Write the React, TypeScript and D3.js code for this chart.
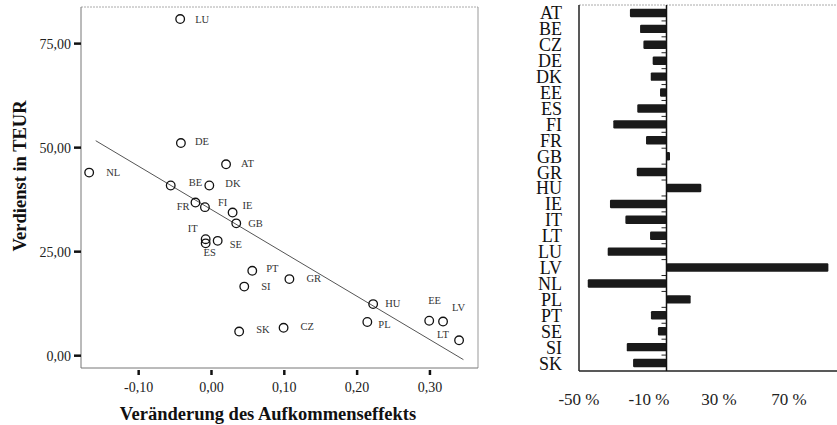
import React from "react";
import * as d3 from "d3";

// ---------- Data ----------
const countries = ["AT","BE","CZ","DE","DK","EE","ES","FI","FR","GB","GR","HU","IE","IT","LT","LU","LV","NL","PL","PT","SE","SI","SK"];

// scatter: change of revenue effect (x) vs earnings in TEUR (y)
const scatterX = [0.020,-0.056,0.099,-0.042,-0.003,0.299,-0.008,-0.009,-0.022,0.034,0.107,0.222,0.029,-0.008,0.340,-0.043,0.318,-0.168,0.214,0.056,0.0085,0.045,0.038];
const scatterY = [46.0,40.9,6.7,51.1,40.9,8.4,27.0,35.7,36.8,31.8,18.4,12.4,34.4,28.0,3.7,80.9,8.2,44.0,8.1,20.4,27.6,16.6,5.8];

// regression line
const regIntercept = 35.1;
const regSlope = -104.2;
const regXRange = [-0.159, 0.346];

// bar chart: change in percent
const barValues = [-20.9,-15.1,-13.2,-7.9,-9.0,-3.7,-16.7,-30.4,-11.7,2.0,-17.0,19.9,-32.3,-23.5,-9.4,-33.6,92.5,-45.0,13.8,-8.9,-4.9,-22.7,-19.1];

const scatterXTicks = [-0.1, 0, 0.1, 0.2, 0.3];
const scatterYTicks = [0, 25, 50, 75];
const barTicks = [-50, -10, 30, 70];

const xTitle = "Veränderung des Aufkommenseffekts";
const yTitle = "Verdienst in TEUR";

// label placement (layout only)
const labelPos: Record<string, [number, number, string]> = {
  LU: [15, 0, "start"], DE: [14, -2, "start"], AT: [15, -1, "start"], NL: [17, 0, "start"],
  BE: [18, -3, "start"], DK: [16, -2, "start"], FR: [-6, 4, "end"], FI: [13, -5, "start"],
  IE: [10, -7, "start"], GB: [12, 0, "start"], IT: [-8, -11, "end"], ES: [4, 9, "middle"],
  SE: [12, 3, "start"], PT: [14, -2, "start"], SI: [17, 0, "start"], GR: [17, -1, "start"],
  SK: [17, -2, "start"], CZ: [17, -1, "start"], HU: [12, -1, "start"], PL: [11, 2, "start"],
  EE: [-1, -20, "start"], LV: [9, -14, "start"], LT: [-22, -6, "start"],
};

const FONT = "'Liberation Serif', 'Times New Roman', serif";

export default function App() {
  const locale = d3.formatLocale({ decimal: ",", thousands: ".", grouping: [3], currency: ["", "€"], minus: "-" });
  const f2 = locale.format(".2f");

  // scatter scales
  const x = d3.scaleLinear().domain([-0.1792, 0.366]).range([81, 478]);
  const y = d3.scaleLinear().domain([-2.96, 83.8]).range([368, 7]);
  const [px0, px1] = x.range();
  const [py1, py0] = y.range();

  const regLine = d3.line<number>()
    .x((v) => x(v))
    .y((v) => y(regIntercept + regSlope * v))(regXRange);

  // bar scales
  const bx = d3.scaleLinear().domain([-50, 100]).range([579, 841.5]);
  const by = d3.scaleBand<string>().domain(countries).range([5, 371]).paddingInner(0.47).paddingOuter(0.235);
  const step = by.step();
  const bTop = 5, bBottom = 371;
  const zeroX = bx(0);

  return (
    <svg width={837} height={425} style={{ position: "absolute", left: 0, top: 0, background: "#fff" }} fontFamily={FONT}>
      {/* ---------- Scatter ---------- */}
      <g>
        <line x1={px0} x2={px1} y1={py0} y2={py0} stroke="#aaa" strokeDasharray="2,1" strokeWidth={1} />
        <line x1={px1} x2={px1} y1={py0} y2={py1} stroke="#999" strokeWidth={1} />
        <line x1={px0} x2={px0} y1={py0} y2={py1} stroke="#777" strokeWidth={1} />
        <line x1={px0} x2={px1} y1={py1} y2={py1} stroke="#777" strokeWidth={1} />

        {scatterYTicks.map((t) => (
          <g key={"yt" + t}>
            <line x1={px0 - 7} x2={px0} y1={y(t)} y2={y(t)} stroke="#111" strokeWidth={2.5} />
            <text x={px0 - 10} y={y(t)} dy="0.35em" textAnchor="end" fontSize={14} fill="#222">{f2(t)}</text>
          </g>
        ))}
        {scatterXTicks.map((t) => (
          <g key={"xt" + t}>
            <line x1={x(t)} x2={x(t)} y1={py1 + 2} y2={py1 + 7} stroke="#111" strokeWidth={2.5} />
            <text x={x(t)} y={392} textAnchor="middle" fontSize={14} fill="#222">{f2(t)}</text>
          </g>
        ))}

        <path d={regLine || ""} stroke="#555" strokeWidth={1} fill="none" />

        {countries.map((c, i) => {
          const cx = x(scatterX[i]);
          const cy = y(scatterY[i]);
          const [dx, dy, anchor] = labelPos[c];
          return (
            <g key={"p" + c}>
              <circle cx={cx} cy={cy} r={4.3} fill="none" stroke="#111" strokeWidth={1.3} />
              <text x={cx + dx} y={cy + dy} dy="0.35em" textAnchor={anchor as any} fontSize={10.5} fill="#333">{c}</text>
            </g>
          );
        })}

        <text x={268} y={420} textAnchor="middle" fontSize={18.5} fontWeight="bold" fill="#111">{xTitle}</text>
        <text transform="translate(26,176) rotate(-90)" textAnchor="middle" fontSize={18.5} fontWeight="bold" fill="#111">{yTitle}</text>
      </g>

      {/* ---------- Bars ---------- */}
      <g>
        <line x1={bx(-50)} x2={837} y1={bTop} y2={bTop} stroke="#aaa" strokeDasharray="2,1" strokeWidth={1} />
        <line x1={bx(-50)} x2={837} y1={bBottom} y2={bBottom} stroke="#222" strokeWidth={1.5} />
        <line x1={bx(-50)} x2={bx(-50)} y1={bTop} y2={bBottom} stroke="#222" strokeWidth={1.5} />

        {countries.map((c, i) => {
          const v = barValues[i];
          const yy = by(c) as number;
          return (
            <g key={"b" + c}>
              <rect x={Math.min(bx(v), zeroX)} y={yy} width={Math.abs(bx(v) - zeroX)} height={by.bandwidth()} fill="#1a1a1a" rx={1.2} />
              <text x={562} y={yy + by.bandwidth() / 2} dy="0.36em" textAnchor="end" fontSize={18} fill="#111">{c}</text>
            </g>
          );
        })}
        {countries.slice(1).map((c, i) => (
          <line key={"bt" + c} x1={zeroX - 5} x2={zeroX} y1={bTop + (i + 1) * step} y2={bTop + (i + 1) * step} stroke="#222" strokeWidth={1} />
        ))}
        <line x1={zeroX} x2={zeroX} y1={bTop} y2={bBottom} stroke="#111" strokeWidth={1.5} />

        {barTicks.map((t) => (
          <text key={"bx" + t} x={bx(t)} y={405} textAnchor="middle" fontSize={17} fill="#222">{`${t} %`}</text>
        ))}
      </g>
    </svg>
  );
}
